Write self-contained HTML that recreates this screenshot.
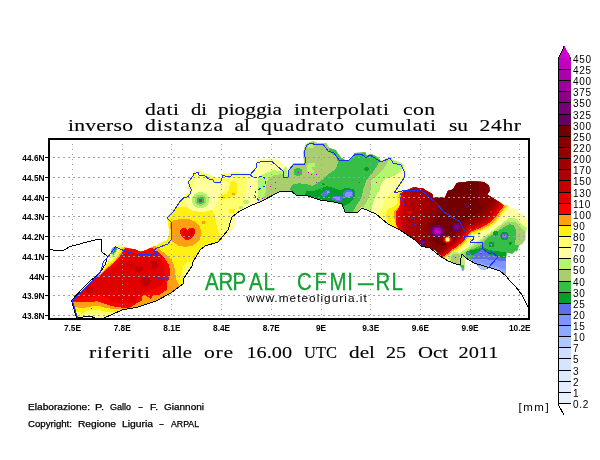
<!DOCTYPE html>
<html><head><meta charset="utf-8"><title>ARPAL CFMI-RL</title>
<style>
html,body{margin:0;padding:0;background:#fff;}
svg{display:block;}
.t{font-family:"Liberation Serif",serif;font-size:16px;fill:#000;stroke:#000;stroke-width:0.12px;}
.s{font-family:"Liberation Sans",sans-serif;fill:#000;}
</style></head>
<body>
<svg width="600" height="460" viewBox="0 0 600 460">
<rect x="0" y="0" width="600" height="460" fill="#ffffff"/>
<defs><clipPath id="reg"><polygon points="72,301 84,288 92,281 99,275 102,272 105,266 108.5,261 111,253.5 111.5,248.5 114,246.5 117,245 122,245 126,247.5 130,248.5 138,249.5 140,251.5 146,250 150,248 153,246 160,243 167,240 169,234 168,222 166,217 170,213 178,202 183,197 189,191 187,183 192,174 199,169.6 204,173 209,174 214,177 220,178 222,174 230,173 234,172 250,173 255,166 257,160 260,158.7 272,158.5 278.7,160 286.7,167.3 287.3,175.3 289,168 294,163 304,163 303.3,152.3 305.3,145 309.3,142.3 313.3,141 317.3,143 326.7,143 328.7,147.7 336,150.3 338,153.7 341.3,157.7 346.7,161 350.7,159 354.7,153 365.3,152.3 366.7,155.7 370.7,153.7 376,156.3 381.3,161 388,157.7 391.3,156.3 392.7,159.7 400,162.3 404,165 406.7,169.7 406,177 404,181 400.7,186.3 398.7,191 404,191 409.3,189 414.7,187 418.7,188.3 422.7,188.3 426.7,191 432,193.7 433.3,197.7 445,197.7 448,191 453,189.6 456,184.4 457,183 470,181.4 484,182 489,186 489.5,191 487,194.5 495,199.5 500,202.5 504,205.5 507.7,205.3 509.7,208.7 513.7,208 517.7,211.3 521.7,213.3 527.7,220 527.7,226.7 525.7,232 525.7,238.7 522.3,244 519,245.3 517,251.3 515,251 512.3,253.7 507,252.5 506,258 506,275.5 500.3,271 493.7,268.3 487.5,267.5 485,269.5 481,269 478,266 476.3,263.7 471,259.7 464,257 464.5,262 464.3,270 462,271 461,267 459,265 452.3,263 443,257.7 435,249.7 430,248 421,246 415,240 406,234 400,230 390,226 380,218 376,214 369.3,211 361.3,207 357.3,212.3 345.3,212.3 344,208.3 341.3,203.7 330.7,201.7 317.3,199 308,195.7 300,195 296,195.3 291.3,191.3 281.3,190.7 260,202 252,205 240,211 236,215 235.5,222 234,229 230,232 224,238 218,242 205,246 200,250 193,262 192,266 184,278 183,284 171,293 156,301 138,307 122,310 104,318 95,318 90,316 77,318"/></clipPath></defs>
<g shape-rendering="crispEdges" stroke="none" clip-path="url(#reg)">
<polygon fill="#ffffa0" points="40,130 540,130 540,330 40,330"/>
<polygon fill="#ffff6e" points="72,301 84,288 92,280 101,273 104,263 110,253 114,247 119,246 126,249 130,248.4 138,250 144,249 150,248 153,248 160,243 167,240 169,234 168,222 166,217 170,213 178,202 183,197 189,191 187,183 192,174 199,169.6 204,173 209,174 214,177 220,178 222,174 230,173 234,172 246,173 248,185 246,196 243,204 240,211 232,217 228,228 218,242 205,246 200,250 193,262 192,266 184,278 183,284 171,293 156,301 138,307 122,310 109,315 98.3,313.7 89,314.3 77.7,315 76,312"/>
<polygon fill="#fff014" points="73,303 84,288 92,280 101,273 104,265 109,257 113,251 117,248.5 122,247 126.3,247.3 129.7,249.3 135,249 140.3,251.3 145.7,250 148.3,248 153,248 160,243 167,240 169,234 168,222 166,217 170,213 176,207.5 185,206.7 193.3,211 203.3,212.5 211.7,210 215,215 216,223.3 218.3,231.7 221.7,238 218,242 205,246 200,250 193,262 192,266 184,278 183,284 171,293 156,301 138,307 122,310 117,311.7 110.3,312.3 102.3,311 95.7,309.7 89,310.3 82.3,313 76.3,311.7"/>
<polygon fill="#ffa014" points="72.5,302 84,288 92,280 101,273.5 105.5,268.5 108,266.5 112,263 116,259 119.5,254.5 122.5,250 124.5,246.5 127,247 129.7,248 135,249 140.3,251.3 145.7,250 148.3,248 152.3,247 153.5,245 157,247 161.5,251 167,255 171.5,260 174,265 175.5,275 176.5,280 179,285 180,288 171,293 156,301 138,307 122,310 121,309.4 113,309 105,307.7 98.3,305.7 91.7,306.3 87.7,307 82.3,308.3 75,307"/>
<polygon fill="#ff0000" points="72.5,301.5 84,288 92,280 100.5,274.5 103,272.5 106.5,269 109,267 113,263.8 117,259.8 120.5,255.3 123.5,250.8 125.5,247.5 129.7,248 135,249 140.3,251.3 145.7,250 148.3,248 153,248 155,251 157.5,251 163.5,256.5 169,265 170.5,275 168.5,280 166.5,283 166.5,290 164,291.3 160,294.7 153.3,295.3 150.7,298.7 146,295.5 142.7,294.7 142,300.7 136,303.3 132,306.7 128,308.7 123.7,308 118.3,307 111.7,306.3 105,303.7 97,301 91.7,302.3 81,302.3 73,302.3"/>
<polygon fill="#e10000" points="75,297.7 84,289 92,281 99,276 103,273 110,269 115,266 120,261 123,256.5 125.5,253 128,253 132,254 137,255 143,255.5 148,255.5 152,254 154.5,252.5 157,253 159.5,256.5 163.5,265 165,275 164.5,280 161.5,285 158.7,287 150.7,290 144,293.3 139,296 137,300 134.3,303 125,302.3 118.3,303 111,301.7 107.7,297 98.3,296.3 86.3,297 81,298.3"/>
<ellipse fill="#c30000" cx="131" cy="265.3" rx="2.2" ry="1.8"/>
<ellipse fill="#c30000" cx="139" cy="268.7" rx="4" ry="3"/>
<ellipse fill="#c30000" cx="154.3" cy="264.7" rx="3.5" ry="4"/>
<ellipse fill="#c30000" cx="145.7" cy="281.5" rx="5.2" ry="4.5"/>
<ellipse fill="#c30000" cx="89.5" cy="290" rx="4" ry="3.2"/>
<polygon fill="#ffffa0" points="109.5,261 112,254 113,249.5 115,247.5 118,246.5 121,247 119.5,250.5 117,254.5 113.5,259 111,262"/>
<polygon fill="#b4f56e" points="111.5,256 112.5,250 114.5,247.5 117.5,247 118.5,248.5 116.5,252 114,256 112.5,258"/>
<polygon fill="#37be46" points="112,254 112.8,249.5 114.5,247.5 116.5,247.5 116.8,249.5 115,252.5 113.5,255"/>
<polygon fill="#00a028" points="112.2,253 113,249.5 114.5,247.8 115.5,248 115.5,250 114,253"/>
<polygon fill="#7d96ff" points="111,254.5 111,249 113,247 114,248 114,250.5 113,253.5"/>
<polygon fill="#ffffa0" points="195,178 200,176 207,178 212,182 216,184 222,183 226,180 228,183 224,190 219,198 217,206 212,210 203,212 193,210.5 187,206 186,200 190,194 193,188"/>
<polygon fill="#ffffa0" points="246,173 262,170 262,200 246,212 241,211 243,206 246,196 247,184"/>
<polygon fill="#ffff6e" points="182,273 183,267 187,262.5 192,261 193,263 191,268 186,275 183,278"/>
<polygon fill="#fff014" points="230,182 234,180.5 237,183 237.5,190 236,195 231,197.5 225,199 220,198 221,195 226.5,194 229,190"/>
<ellipse fill="#fff014" cx="232" cy="211" rx="3" ry="2.5"/>
<ellipse fill="#b4f56e" cx="200.5" cy="200.2" rx="8.6" ry="8.2"/>
<ellipse fill="#aacd6e" cx="200.5" cy="200.2" rx="5.9" ry="5.6"/>
<ellipse fill="#37be46" cx="200.5" cy="200.2" rx="3.8" ry="3.6"/>
<ellipse fill="#00a028" cx="200.5" cy="200.3" rx="1.8" ry="1.7"/>
<ellipse fill="#b4f56e" cx="246" cy="202" rx="2.6" ry="2.4"/>
<ellipse fill="#b4f56e" cx="241" cy="207.7" rx="2" ry="1.8"/>
<polygon fill="#ffa014" points="170,224 173,220.5 180,219 190,219.5 196,222 200,227 201.7,234 199,241 193,245.5 186,247 178,245.5 171.5,241 171,233"/>
<ellipse fill="#ffa014" cx="203.7" cy="222.5" rx="2" ry="1.6"/>
<ellipse fill="#ffa014" cx="233.5" cy="194" rx="1.6" ry="1.3"/>
<polygon fill="#ff0000" points="180,231 182,228 186,228.5 188,230 190,227.5 194,228 195.5,232 193.5,236.5 189,239.5 185,239.5 181,236"/>
<polygon fill="#e10000" points="183,231.5 185,229.5 188,231.5 190,229 193.5,229.5 194,233 191.5,236.5 188,238 185,236.5"/>
<polygon fill="#b4f56e" points="258,178.7 261.3,175.3 266.7,172.7 273.3,170 280,171.3 284,169 286.7,166 290,160 300,158 300,138 410,138 404,165 400,171.7 394.7,175.7 386.7,178.3 381.3,183.7 379.3,190.3 374.7,198.3 372,206 372,213 369.3,212 361.3,208 357.3,214 345.3,214 343,208.3 341.3,205 330.7,203 317.3,200 308,197 300,196.5 296,196.5 291.3,193 281.3,192 260,204 258,194 258,190"/>
<polygon fill="#aacd6e" points="268.7,178.7 273.3,175.3 282.7,174 284,176.7 287.3,176.7 288.7,171 293.3,163 300,160 300,138 392,138 389,160 384,168 378,175 371.5,180 371,188 369.5,195 366.5,202 364,206 360,210.5 357.3,214 345.3,214 343,208.3 341.3,205 330.7,203 317.3,200 308,197 300,196.5 296,196.5 291.3,193 281.3,192 260,204 262,203 264,198 266.5,190 266,185"/>
<polygon fill="#37be46" points="329.3,151.7 328,145 332,140 380,140 381,158 378.7,162.3 376,167.7 372,173.7 366.7,179.7 363.3,189 361.3,198.3 358.7,201.7 353.3,211 352,215 345.3,214 343,208.3 341.3,205 330.7,203 317.3,200 308,197 300,196.5 296,196.5 291.3,193 290,188.7 292.7,184.7 298.7,183.3 306.7,184 312,186 318.7,182.3 323.3,179 328,174.3 336,169 338,163 336,156.3"/>
<ellipse fill="#37be46" cx="298" cy="172" rx="4.5" ry="4.2"/>
<polygon fill="#b4f56e" points="307,170.5 307,165 310,163 314.5,163.5 314.5,166.5 311.5,166.5 311.5,169.5 314,170 314.5,172.5 309,172.8"/>
<ellipse fill="#b4f56e" cx="310.7" cy="146.3" rx="3.2" ry="2"/>
<polygon fill="#00a028" points="304,196.5 306.7,191 313.3,191 321.3,188.3 326.7,186.3 334.7,188.3 340,190.3 345.3,187.7 353.3,189 355.5,193 354.5,198 351,202 347.5,204.5 343,206 341.3,205 330.7,203 317.3,200 308,197"/>
<ellipse fill="#00a028" cx="366.5" cy="169" rx="2.5" ry="2.3"/>
<ellipse fill="#00a028" cx="323.3" cy="184.3" rx="1.3" ry="1.2"/>
<polygon fill="#5f6eeb" points="322,196 322.5,193 326,190.5 329.5,189.7 330.5,192 328,195 324,197.3"/>
<polygon fill="#7d96ff" points="326.5,192 329,190.5 329.8,192.5 327.5,194"/>
<polygon fill="#5f6eeb" points="332,197 335,195.7 341,196 343,198 342,200.5 336,201 332.5,199.5"/>
<polygon fill="#5f6eeb" points="342.7,196 343.5,192 347,189.7 351,190 353.3,193 352.5,197 349,198.3 344,198.3"/>
<polygon fill="#7d96ff" points="345,193 348,191.5 351.5,192.5 351.5,196 348,197.5 345,196.5"/>
<polygon fill="#7d96ff" points="335,197.5 340,197.3 340.5,199.5 336,200"/>
<polygon fill="#ffff6e" points="410,188.5 406,184 403,180 397,185 393,190 390,193 385,200 383,206 379,211 377,214 375,222 380,275 430,275 440,267 445,261 450,256 455,252.5 460,250 465,247 470,243 473,239 474,235 478,232 483,229.5 488,227 494,223 498,219.5 501,215 506,209 514,198 520,170 410,170"/>
<polygon fill="#fff014" points="410,188.5 399,191 397,195 397.5,203 394,207 389,208 386.5,212 386,218 388,223 390,232 380,275 430,275 437.8,266.2 444.9,259.7 448.9,256.3 452,253.4 457.1,250.4 462.1,246.5 467.2,241.5 469.2,237.6 472.8,234.2 477.3,232.7 482.4,230.8 487.4,228.4 492.5,225.4 496.5,222 499.6,218 501.7,215.1 506.4,209.2 514.8,199.2 520,170 410,170"/>
<polygon fill="#ffa014" points="410,188.5 400,193 398.5,196 400,199 399.5,205 397,209 394,211.5 393.5,215 395,221 396.5,227 397,234 380,275 430,275 436.9,265 443.9,258.6 447.9,255.1 451,252.1 456,249.2 461,245.2 466,240.2 468.1,236.3 471.6,232.8 476.1,231.3 481.1,229.3 486.2,226.9 491.2,223.9 495.2,220.4 498.2,216.5 500.3,213.5 505,207.5 513.3,197.6 520,170 410,170"/>
<polygon fill="#ff0000" points="410,188.5 400.5,193 401.5,196 400.5,199 400.3,205 398,209 396,212 395.5,218 396.5,225 398,228.5 399,235 380,275 430,275 436,264 443,257.5 447,254 450,251 455,248 460,244 465,239 467,235 470.5,231.5 475,230 480,228 485,225.5 490,222.5 494,219 497,215 499,212 503.7,206 512,196 520,170 410,170"/>
<polygon fill="#e10000" points="410,188.5 401.5,192 402,198 401,205 399,211 397.5,218 399,227 400,236 380,275 430,275 435.2,263.1 442.2,256.5 446.2,253 449.2,250 454.1,246.9 459.1,242.9 464.1,237.9 466.1,233.9 469.5,230.3 474,228.8 479,226.8 484,224.2 488.9,221.2 492.9,217.7 495.9,213.7 497.9,210.6 502.6,204.6 510.8,194.6 520,170 410,170"/>
<polygon fill="#c30000" points="410,188.5 403,191 404,195 404.5,205 403,210 401,218 402,227 403,231 404,238 380,275 430,275 434.4,262 441.3,255.5 445.3,251.9 448.2,248.9 453.2,245.8 458.1,241.7 463.1,236.7 465,232.6 468.5,229.1 472.9,227.5 477.9,225.4 482.8,222.9 487.8,219.8 491.7,216.3 494.7,212.2 496.6,209.1 501.3,203.1 509.5,193 520,170 410,170"/>
<polygon fill="#af0000" points="411,186 410,193 409.5,205 408,212 405.5,218 405.5,227 407,240 380,275 430,275 433.5,261 440.5,254.4 444.4,250.8 447.3,247.7 452.2,244.7 457.2,240.6 462.1,235.5 464,231.4 467.4,227.8 471.8,226.2 476.8,224.1 481.7,221.5 486.6,218.4 490.5,214.8 493.5,210.7 495.4,207.6 500,201.5 508.2,191.4 520,170 410,170"/>
<polygon fill="#a00000" points="422,186 421.7,190 421,197.3 421.7,206.7 419.7,214.7 417.7,224 415,233.3 414,245 380,275 430,275 432.7,260 439.6,253.4 443.5,249.8 446.4,246.6 451.3,243.5 456.2,239.4 461.1,234.3 463,230.1 466.4,226.5 470.8,224.9 475.7,222.8 480.5,220.1 485.4,217 489.3,213.4 492.2,209.3 494.1,206.1 498.7,200 506.9,189.9 520,170 410,170"/>
<polygon fill="#940000" points="427,186 426.5,194 428,202 430.5,207 427.5,214 424,219 421.5,225.5 421,234 421,250 380,275 430,275 431.8,259 438.7,252.3 442.6,248.7 445.4,245.5 450.3,242.4 455.2,238.2 460.1,233 461.9,228.9 465.3,225.2 469.7,223.6 474.5,221.4 479.4,218.8 484.3,215.6 488.1,212 491,207.8 492.9,204.6 497.5,198.5 505.6,188.3 520,170 410,170"/>
<polygon fill="#870000" points="430,186 431,194.7 435,201.3 439,206.7 435,213.3 429.7,218.7 427,225.3 427,233.3 428.3,238.7 429,252 380,275 430,275 430.6,257.6 437.5,250.9 441.3,247.2 444.1,244 449,240.8 453.8,236.6 458.6,231.4 460.5,227.2 463.8,223.5 468.1,221.8 473,219.6 477.8,216.9 482.6,213.7 486.5,210 489.3,205.8 491.1,202.6 495.7,196.4 503.8,186.2 520,170 410,170"/>
<polygon fill="#730000" points="435,201 440,186 457,170 479,170 479,200 481,207 484.2,207.4 480.4,211.2 475.6,214.4 470.9,217.2 466.1,219.4 461.8,221.2 458.5,225 452,240 444,246 436,244 431,238 431,226 434,220 441,213 444,208"/>
<ellipse fill="#ff0000" cx="491" cy="212" rx="1.3" ry="1.1"/>
<ellipse fill="#e10000" cx="410.3" cy="212.7" rx="2.2" ry="2.2"/>
<ellipse fill="#640064" cx="437.4" cy="231.3" rx="7.3" ry="6.6"/>
<ellipse fill="#880088" cx="437.4" cy="231.3" rx="5.2" ry="4.7"/>
<ellipse fill="#ac00ac" cx="437.4" cy="231.3" rx="3.6" ry="3.3"/>
<ellipse fill="#d200d2" cx="437.4" cy="231.3" rx="2.2" ry="2"/>
<ellipse fill="#640064" cx="456.6" cy="227" rx="4.5" ry="4.2"/>
<ellipse fill="#760076" cx="456.6" cy="227" rx="3" ry="2.8"/>
<ellipse fill="#880088" cx="456.6" cy="227" rx="1.6" ry="1.5"/>
<ellipse fill="#640064" cx="467" cy="206.3" rx="2" ry="1.7"/>
<ellipse fill="#640064" cx="423" cy="242" rx="3" ry="3"/>
<ellipse fill="#880088" cx="423" cy="242.5" rx="1.6" ry="1.6"/>
<ellipse fill="#af0000" cx="447.4" cy="239.6" rx="4.6" ry="4.2"/>
<ellipse fill="#e10000" cx="447.4" cy="239.6" rx="3.9" ry="3.5"/>
<ellipse fill="#ff0000" cx="447.4" cy="239.6" rx="3.3" ry="2.9"/>
<ellipse fill="#ffa014" cx="447.4" cy="239.6" rx="2.7" ry="2.4"/>
<polygon fill="#ffff6e" points="445.6,238 449.2,238 449.2,241.2 445.6,241.2"/>
<polygon fill="#b4f56e" points="532,234 527.7,229 523,225.3 517.7,220 513,217.5 508.3,218.5 505,221 500,225 495,229 490,232.5 484,236.5 479,240.5 471.5,245 465,249.5 460,252.5 458,253.5 452,253 448,258 470,290 535,290"/>
<polygon fill="#aacd6e" points="532,240 525,238.7 525,232 520.3,226.7 515,222 508,221.5 503,225 498,229 493,232.5 486.5,236.5 482,240.5 475,245 469,249 465,251.5 463,253 459,255.5 453.5,255 451,260 470,290 535,290"/>
<polygon fill="#37be46" points="532,246 515,245.3 515.7,238.7 516.3,230.7 513.7,225.3 510,224 506,226 501,229 495,233 489.5,236.5 485,240.5 483,244 477,247 471.5,249.5 467,251.5 466,254 466,262 470,290 535,290"/>
<polygon fill="#00a028" points="466,252 470,250.5 477,249 483,247 488,249.5 494,251 500,251.5 505.7,251.5 506,259 495,258 488.3,256 480,254 472,255 466,255"/>
<ellipse fill="#00a028" cx="495.5" cy="233.3" rx="3" ry="2.2"/>
<ellipse fill="#00a028" cx="504.5" cy="236" rx="4.2" ry="4"/>
<ellipse fill="#00a028" cx="491.5" cy="244.5" rx="2.8" ry="2.8"/>
<ellipse fill="#00a028" cx="510.3" cy="243.3" rx="1.6" ry="1.5"/>
<ellipse fill="#5f6eeb" cx="504.5" cy="236" rx="2.7" ry="2.5"/>
<ellipse fill="#7d96ff" cx="504.5" cy="236" rx="1.4" ry="1.2"/>
<ellipse fill="#5f6eeb" cx="495.5" cy="233.3" rx="1.1" ry="1"/>
<ellipse fill="#7d96ff" cx="491" cy="244.7" rx="1.3" ry="1.3"/>
<polygon fill="#5f6eeb" points="471.5,262 473,255 477,253 479,251 483,249.5 485,252 488,253 490,255 494,255.5 498,257 504,258 506,258.3 506,290 466,290"/>
<polygon fill="#7d96ff" points="472,258.5 478,258.5 488,259.5 498,260.5 506,261 506,290 466,290"/>
<polygon fill="#8caaff" points="474,262.5 480,263 489,265.5 497,266.5 506,270 506,290 470,290"/>
<polygon fill="#afc8ff" points="478,265.5 483,266.5 487,268 486,271 478,270"/>
<ellipse fill="#5f6eeb" cx="468.5" cy="253.2" rx="1.8" ry="1.5"/>
<ellipse fill="#7d96ff" cx="481" cy="253.2" rx="1.3" ry="1.4"/>
<polygon fill="#b4f56e" points="449,254.5 452,252.5 456,252 460.5,253.5 461,258 459.7,265.5 452,263.5 449.5,259"/>
<polygon fill="#aacd6e" points="451,256 454,254 458,254 460.3,256 460,264.8 453,263 451,260"/>
<polygon fill="#b4f56e" points="459.5,259 461,254.5 464,257 464.5,262 464.3,265 459,265"/>
<polygon fill="#37be46" points="460,264.5 464.3,264.5 464.3,268 461.5,268 460,266"/>
<polygon fill="#7d96ff" points="461.8,267.5 464.3,267.5 464.3,271 462,271"/>
<ellipse fill="#b4f56e" cx="479" cy="233.4" rx="1.8" ry="1.6"/>
<polygon fill="#d000d0" points="199.95,199.75 201.05,199.75 201.05,200.85 199.95,200.85"/>
<polygon fill="#d000d0" points="221.45,197.05 222.55,197.05 222.55,198.15 221.45,198.15"/>
<polygon fill="#d000d0" points="358.95,181.75 360.05,181.75 360.05,182.85 358.95,182.85"/>
<polygon fill="#d000d0" points="375.95,181.75 377.05,181.75 377.05,182.85 375.95,182.85"/>
<polygon fill="#d000d0" points="250.15,185.75 251.25,185.75 251.25,186.85 250.15,186.85"/>
<polygon fill="#d000d0" points="275.15,181.85 276.25,181.85 276.25,182.95 275.15,182.95"/>
<polygon fill="#d000d0" points="269.85,185.75 270.95,185.75 270.95,186.85 269.85,186.85"/>
<polygon fill="#d000d0" points="275.15,187.85 276.25,187.85 276.25,188.95 275.15,188.95"/>
<polygon fill="#d000d0" points="261.85,197.75 262.95,197.75 262.95,198.85 261.85,198.85"/>
<polygon fill="#d000d0" points="298.15,171.85 299.25,171.85 299.25,172.95 298.15,172.95"/>
<polygon fill="#d000d0" points="307.95,171.85 309.05,171.85 309.05,172.95 307.95,172.95"/>
<polygon fill="#d000d0" points="311.15,173.85 312.25,173.85 312.25,174.95 311.15,174.95"/>
<polygon fill="#d000d0" points="316.05,173.85 317.15,173.85 317.15,174.95 316.05,174.95"/>
<polygon fill="#d000d0" points="315.95,181.85 317.05,181.85 317.05,182.95 315.95,182.95"/>
<polygon fill="#d000d0" points="322.75,183.75 323.85,183.75 323.85,184.85 322.75,184.85"/>
<polygon fill="#d000d0" points="478.45,232.85 479.55,232.85 479.55,233.95 478.45,233.95"/>
<polygon fill="#d000d0" points="467.05,234.85 468.15,234.85 468.15,235.95 467.05,235.95"/>
<polygon fill="#d000d0" points="510.05,242.75 511.15,242.75 511.15,243.85 510.05,243.85"/>
<polygon fill="#d000d0" points="490.05,244.85 491.15,244.85 491.15,245.95 490.05,245.95"/>
<polygon fill="#d000d0" points="454.95,256.95 456.05,256.95 456.05,258.05 454.95,258.05"/>
<polygon fill="#d000d0" points="91.15,307.75 92.25,307.75 92.25,308.85 91.15,308.85"/>
<polygon fill="#d000d0" points="503.95,235.45 505.05,235.45 505.05,236.55 503.95,236.55"/>
<polygon fill="#d000d0" points="480.45,252.65 481.55,252.65 481.55,253.75 480.45,253.75"/>
<polygon fill="#d000d0" points="494.95,232.75 496.05,232.75 496.05,233.85 494.95,233.85"/>
<polygon fill="#d000d0" points="436.85,230.75 437.95,230.75 437.95,231.85 436.85,231.85"/>
</g>
<g stroke="#9e9e9e" stroke-width="1" shape-rendering="crispEdges" fill="none">
<line x1="72.5" y1="140" x2="72.5" y2="318" stroke-dasharray="1.6 3.4" stroke-dashoffset="1.5"/>
<line x1="122.5" y1="140" x2="122.5" y2="318" stroke-dasharray="1.6 3.4" stroke-dashoffset="1.5"/>
<line x1="171.5" y1="140" x2="171.5" y2="318" stroke-dasharray="1.6 3.4" stroke-dashoffset="1.5"/>
<line x1="221.5" y1="140" x2="221.5" y2="318" stroke-dasharray="1.6 3.4" stroke-dashoffset="1.5"/>
<line x1="271.5" y1="140" x2="271.5" y2="318" stroke-dasharray="1.6 3.4" stroke-dashoffset="1.5"/>
<line x1="321.5" y1="140" x2="321.5" y2="318" stroke-dasharray="1.6 3.4" stroke-dashoffset="1.5"/>
<line x1="370.5" y1="140" x2="370.5" y2="318" stroke-dasharray="1.6 3.4" stroke-dashoffset="1.5"/>
<line x1="420.5" y1="140" x2="420.5" y2="318" stroke-dasharray="1.6 3.4" stroke-dashoffset="1.5"/>
<line x1="470.5" y1="140" x2="470.5" y2="318" stroke-dasharray="1.6 3.4" stroke-dashoffset="1.5"/>
<line x1="519.5" y1="140" x2="519.5" y2="318" stroke-dasharray="1.6 3.4" stroke-dashoffset="1.5"/>
<line x1="50" y1="157.5" x2="528" y2="157.5" stroke-dasharray="1.6 3.4" stroke-dashoffset="2"/>
<line x1="50" y1="177.5" x2="528" y2="177.5" stroke-dasharray="1.6 3.4" stroke-dashoffset="2"/>
<line x1="50" y1="197.5" x2="528" y2="197.5" stroke-dasharray="1.6 3.4" stroke-dashoffset="2"/>
<line x1="50" y1="216.5" x2="528" y2="216.5" stroke-dasharray="1.6 3.4" stroke-dashoffset="2"/>
<line x1="50" y1="236.5" x2="528" y2="236.5" stroke-dasharray="1.6 3.4" stroke-dashoffset="2"/>
<line x1="50" y1="256.5" x2="528" y2="256.5" stroke-dasharray="1.6 3.4" stroke-dashoffset="2"/>
<line x1="50" y1="276.5" x2="528" y2="276.5" stroke-dasharray="1.6 3.4" stroke-dashoffset="2"/>
<line x1="50" y1="295.5" x2="528" y2="295.5" stroke-dasharray="1.6 3.4" stroke-dashoffset="2"/>
<line x1="50" y1="315.5" x2="528" y2="315.5" stroke-dasharray="1.6 3.4" stroke-dashoffset="2"/>
</g>
<g fill="none" stroke-linejoin="round" shape-rendering="crispEdges">
<polyline stroke="#000" stroke-width="1" points="50,249.4 58,251 64,250 70,246.6 80,244 85,242.4 97.5,239.5 101.5,239.5 101.5,251.5 107.5,256.5 105.5,264 101,271 94,278 90,281 83,288 71.5,300.5 76.5,318"/>
<polyline stroke="#000" stroke-width="1" points="77,318 90,316 95,318 104,318 122,310 138,307 156,301 171,293 183,284 184,278 192,266 193,262 200,250 205,246 218,242 228,230 232,217 240,211 252,205 260,202 281,191 292,191.6 296,195 308,196 320,200 334,202 342,204 345,212 358,212 362,208 376,214 388,224 400,230 406,234 415,240 421,246 430,248 440,256 448,261 456,264 460,265 461,258 462,254 466,258 474,263 484,266 494,269 500,271 506,276 510,281 516,287 522,295 526,303 528,307"/>
<polyline stroke="#1e32ff" stroke-width="1" points="77.5,318 72.5,301 84.5,288.5 92.5,280.5 96,277 100.5,272 102,267 103.5,261.5 107.5,257.5 111.5,252 115.5,247 120,249 125,251 132,253 137,254 143,254.5 148,255 154,253.6 156,256 157,254 154,250 157,248 168,244 171,240 171,222 167,218 173,212 180,201.5 184,197.5 187.5,197 190,194 191.5,189.5 189.5,186 188.5,182 193,176 193.5,173.5 198.5,172.5 199,175 205,176 209,179 213,180 214.5,182.5 220,182.5 221.5,180 222.5,175.5 230,177 232,174.5 250,175 256,168 257,163 261,161.6 272,161.6 283,171 283,177 288,177 289,170 294,164 304,165 306,161 304,152 307,145 311,143 316,145 323,144 328,151 334,153 339,160 348,161 355,154.4 362,154.4 366,158 370,155 381,162 390,158 393,163 401,165 404,171 404,178 400,184 394,193 402,191 416,190 422,191 428,196 436,203 444,212 452,217 460,222 466,234 464,239 467,236 473,236 474,239 470,242 482,242 483,249 487,252 490,254 492,252 498,257 487,269"/>
<polyline stroke="#1e32ff" stroke-width="1" stroke-dasharray="2 2" points="161,256 161,265 153,271 156,278 168,279"/>
<polyline stroke="#1e32ff" stroke-width="1" stroke-dasharray="3 2" points="250,175 254,178 263,176 266,180 265,186 256,191 254,195 260,202"/>
<polyline stroke="#1e32ff" stroke-width="1" stroke-dasharray="2 2" points="400,193 400,198 404,202 406,210 412,218 416,224 410,226"/>
</g>
<rect x="49" y="139" width="480" height="180" fill="none" stroke="#000" stroke-width="2" shape-rendering="crispEdges"/>
<g stroke="#000" stroke-width="1" shape-rendering="crispEdges">
<line x1="45" y1="157.5" x2="48" y2="157.5"/>
<line x1="45" y1="177.5" x2="48" y2="177.5"/>
<line x1="45" y1="197.5" x2="48" y2="197.5"/>
<line x1="45" y1="216.5" x2="48" y2="216.5"/>
<line x1="45" y1="236.5" x2="48" y2="236.5"/>
<line x1="45" y1="256.5" x2="48" y2="256.5"/>
<line x1="45" y1="276.5" x2="48" y2="276.5"/>
<line x1="45" y1="295.5" x2="48" y2="295.5"/>
<line x1="45" y1="315.5" x2="48" y2="315.5"/>
</g>
<g class="s" font-size="8.3" font-weight="bold" text-anchor="end">
<text x="44.5" y="161">44.6N</text>
<text x="44.5" y="180.75">44.5N</text>
<text x="44.5" y="200.5">44.4N</text>
<text x="44.5" y="220.25">44.3N</text>
<text x="44.5" y="240">44.2N</text>
<text x="44.5" y="259.75">44.1N</text>
<text x="44.5" y="279.5">44N</text>
<text x="44.5" y="299.25">43.9N</text>
<text x="44.5" y="319">43.8N</text>
</g>
<g class="s" font-size="8.3" font-weight="bold" text-anchor="middle">
<text x="72.5" y="331">7.5E</text>
<text x="122.2" y="331">7.8E</text>
<text x="171.9" y="331">8.1E</text>
<text x="221.6" y="331">8.4E</text>
<text x="271.3" y="331">8.7E</text>
<text x="321" y="331">9E</text>
<text x="370.7" y="331">9.3E</text>
<text x="420.4" y="331">9.6E</text>
<text x="470.1" y="331">9.9E</text>
<text x="519.8" y="331">10.2E</text>
</g>
<text class="t" transform="translate(145,114.7) scale(1.350,1)" textLength="25.19" lengthAdjust="spacing">dati</text>
<text class="t" transform="translate(191,114.7) scale(1.286,1)" textLength="12.45" lengthAdjust="spacing">di</text>
<text class="t" transform="translate(218,114.7) scale(1.334,1)" textLength="47.99" lengthAdjust="spacing">pioggia</text>
<text class="t" transform="translate(294,114.7) scale(1.350,1)" textLength="70.37" lengthAdjust="spacing">interpolati</text>
<text class="t" transform="translate(403,114.7) scale(1.350,1)" textLength="23.70" lengthAdjust="spacing">con</text>
<text class="t" transform="translate(68,131) scale(1.350,1)" textLength="48.15" lengthAdjust="spacing">inverso</text>
<text class="t" transform="translate(145,131) scale(1.350,1)" textLength="57.78" lengthAdjust="spacing">distanza</text>
<text class="t" transform="translate(234.5,131) scale(1.342,1)" textLength="11.55" lengthAdjust="spacing">al</text>
<text class="t" transform="translate(261,131) scale(1.350,1)" textLength="61.48" lengthAdjust="spacing">quadrato</text>
<text class="t" transform="translate(355,131) scale(1.350,1)" textLength="60.00" lengthAdjust="spacing">cumulati</text>
<text class="t" transform="translate(449,131) scale(1.336,1)" textLength="14.23" lengthAdjust="spacing">su</text>
<text class="t" transform="translate(479.6,131) scale(1.350,1)" textLength="30.67" lengthAdjust="spacing">24hr</text>
<text class="t" transform="translate(89,358.4) scale(1.350,1)" textLength="45.19" lengthAdjust="spacing">riferiti</text>
<text class="t" transform="translate(162,358.4) scale(1.299,1)" textLength="23.09" lengthAdjust="spacing">alle</text>
<text class="t" transform="translate(204,358.4) scale(1.350,1)" textLength="21.48" lengthAdjust="spacing">ore</text>
<text class="t" transform="translate(246.5,358.4) scale(1.264,1)" textLength="36.00" lengthAdjust="spacing">16.00</text>
<text class="t" transform="translate(304,358.4) scale(1.031,1)" textLength="32.00" lengthAdjust="spacing">UTC</text>
<text class="t" transform="translate(349,358.4) scale(1.330,1)" textLength="19.55" lengthAdjust="spacing">del</text>
<text class="t" transform="translate(386,358.4) scale(1.250,1)" textLength="16.00" lengthAdjust="spacing">25</text>
<text class="t" transform="translate(418,358.4) scale(1.299,1)" textLength="23.10" lengthAdjust="spacing">Oct</text>
<text class="t" transform="translate(458.5,358.4) scale(1.270,1)" textLength="31.41" lengthAdjust="spacing">2011</text>
<g class="s" font-size="23.2" style="fill:#14a032" stroke="#14a032" stroke-width="0.3" transform="scale(0.88,1)">
<text x="233.0 248.3 264.2 283.0 299.4" y="290.3">ARPAL</text>
<text x="337.5 357.4 374.4 394.5" y="290.3">CFMI</text>
<text x="406.8" y="290.3" textLength="17.6" lengthAdjust="spacingAndGlyphs">–</text>
<text x="426.7 444.9" y="290.3">RL</text>
</g>
<text class="s" font-size="11.8" x="246.3" y="302.3" textLength="120.5" lengthAdjust="spacing">www.meteoliguria.it</text>
<text class="s" font-size="8.3" x="28" y="410" textLength="62" lengthAdjust="spacingAndGlyphs" stroke="#000" stroke-width="0.25">Elaborazione:</text>
<text class="s" font-size="8.3" x="95" y="410" textLength="9" lengthAdjust="spacingAndGlyphs" stroke="#000" stroke-width="0.25">P.</text>
<text class="s" font-size="8.3" x="110" y="410" textLength="21" lengthAdjust="spacingAndGlyphs" stroke="#000" stroke-width="0.25">Gallo</text>
<text class="s" font-size="8.3" x="138" y="410" textLength="5" lengthAdjust="spacingAndGlyphs" stroke="#000" stroke-width="0.25">-</text>
<text class="s" font-size="8.3" x="150" y="410" textLength="8" lengthAdjust="spacingAndGlyphs" stroke="#000" stroke-width="0.25">F.</text>
<text class="s" font-size="8.3" x="164" y="410" textLength="40" lengthAdjust="spacingAndGlyphs" stroke="#000" stroke-width="0.25">Giannoni</text>
<text class="s" font-size="8.3" x="28" y="426.5" textLength="44" lengthAdjust="spacingAndGlyphs" stroke="#000" stroke-width="0.25">Copyright:</text>
<text class="s" font-size="8.3" x="78" y="426.5" textLength="38" lengthAdjust="spacingAndGlyphs" stroke="#000" stroke-width="0.25">Regione</text>
<text class="s" font-size="8.3" x="122" y="426.5" textLength="31" lengthAdjust="spacingAndGlyphs" stroke="#000" stroke-width="0.25">Liguria</text>
<text class="s" font-size="8.3" x="159" y="426.5" textLength="5" lengthAdjust="spacingAndGlyphs" stroke="#000" stroke-width="0.25">-</text>
<text class="s" font-size="8.3" x="171" y="426.5" textLength="28" lengthAdjust="spacingAndGlyphs" stroke="#000" stroke-width="0.25">ARPAL</text>
<g shape-rendering="crispEdges">
<rect x="559" y="392" width="12" height="11" fill="#e8f1ff"/>
<rect x="559" y="381" width="12" height="11" fill="#e2edff"/>
<rect x="559" y="370" width="12" height="11" fill="#dce9ff"/>
<rect x="559" y="358" width="12" height="12" fill="#d6e5ff"/>
<rect x="559" y="347" width="12" height="11" fill="#cddeff"/>
<rect x="559" y="336" width="12" height="11" fill="#afc8ff"/>
<rect x="559" y="325" width="12" height="11" fill="#8caaff"/>
<rect x="559" y="314" width="12" height="11" fill="#7d96ff"/>
<rect x="559" y="303" width="12" height="11" fill="#5f6eeb"/>
<rect x="559" y="292" width="12" height="11" fill="#00a028"/>
<rect x="559" y="281" width="12" height="11" fill="#37be46"/>
<rect x="559" y="269" width="12" height="12" fill="#aacd6e"/>
<rect x="559" y="258" width="12" height="11" fill="#b4f56e"/>
<rect x="559" y="247" width="12" height="11" fill="#ffffa0"/>
<rect x="559" y="236" width="12" height="11" fill="#ffff6e"/>
<rect x="559" y="225" width="12" height="11" fill="#fff014"/>
<rect x="559" y="214" width="12" height="11" fill="#ffa014"/>
<rect x="559" y="203" width="12" height="11" fill="#ff0000"/>
<rect x="559" y="192" width="12" height="11" fill="#e10000"/>
<rect x="559" y="180" width="12" height="12" fill="#c30000"/>
<rect x="559" y="169" width="12" height="11" fill="#af0000"/>
<rect x="559" y="158" width="12" height="11" fill="#a00000"/>
<rect x="559" y="147" width="12" height="11" fill="#940000"/>
<rect x="559" y="136" width="12" height="11" fill="#870000"/>
<rect x="559" y="125" width="12" height="11" fill="#730000"/>
<rect x="559" y="114" width="12" height="11" fill="#640064"/>
<rect x="559" y="102" width="12" height="12" fill="#760076"/>
<rect x="559" y="91" width="12" height="11" fill="#880088"/>
<rect x="559" y="80" width="12" height="11" fill="#9a009a"/>
<rect x="559" y="69" width="12" height="11" fill="#ac00ac"/>
<rect x="559" y="58" width="12" height="11" fill="#be00be"/>
<polygon points="559,58 571,58 564.5,46" fill="#d200d2"/>
<g stroke="#000" stroke-width="1" fill="none">
<line x1="558" y1="403.5" x2="571" y2="403.5"/>
<line x1="558" y1="392.5" x2="571" y2="392.5"/>
<line x1="558" y1="381.5" x2="571" y2="381.5"/>
<line x1="558" y1="370.5" x2="571" y2="370.5"/>
<line x1="558" y1="358.5" x2="571" y2="358.5"/>
<line x1="558" y1="347.5" x2="571" y2="347.5"/>
<line x1="558" y1="336.5" x2="571" y2="336.5"/>
<line x1="558" y1="325.5" x2="571" y2="325.5"/>
<line x1="558" y1="314.5" x2="571" y2="314.5"/>
<line x1="558" y1="303.5" x2="571" y2="303.5"/>
<line x1="558" y1="292.5" x2="571" y2="292.5"/>
<line x1="558" y1="281.5" x2="571" y2="281.5"/>
<line x1="558" y1="269.5" x2="571" y2="269.5"/>
<line x1="558" y1="258.5" x2="571" y2="258.5"/>
<line x1="558" y1="247.5" x2="571" y2="247.5"/>
<line x1="558" y1="236.5" x2="571" y2="236.5"/>
<line x1="558" y1="225.5" x2="571" y2="225.5"/>
<line x1="558" y1="214.5" x2="571" y2="214.5"/>
<line x1="558" y1="203.5" x2="571" y2="203.5"/>
<line x1="558" y1="192.5" x2="571" y2="192.5"/>
<line x1="558" y1="180.5" x2="571" y2="180.5"/>
<line x1="558" y1="169.5" x2="571" y2="169.5"/>
<line x1="558" y1="158.5" x2="571" y2="158.5"/>
<line x1="558" y1="147.5" x2="571" y2="147.5"/>
<line x1="558" y1="136.5" x2="571" y2="136.5"/>
<line x1="558" y1="125.5" x2="571" y2="125.5"/>
<line x1="558" y1="114.5" x2="571" y2="114.5"/>
<line x1="558" y1="102.5" x2="571" y2="102.5"/>
<line x1="558" y1="91.5" x2="571" y2="91.5"/>
<line x1="558" y1="80.5" x2="571" y2="80.5"/>
<line x1="558" y1="69.5" x2="571" y2="69.5"/>
<line x1="558.5" y1="58" x2="558.5" y2="405"/>
<polyline points="558.5,58.5 564,46.5"/>
<polyline points="558.5,405 564,415"/>
<line x1="570" y1="58.5" x2="571" y2="58.5"/>
</g>
</g>
<g class="s" font-size="10" letter-spacing="0.65">
<text x="573" y="408">0.2</text>
<text x="573" y="397">1</text>
<text x="573" y="386">2</text>
<text x="573" y="375">3</text>
<text x="573" y="363">5</text>
<text x="573" y="352">7</text>
<text x="573" y="341">10</text>
<text x="573" y="330">15</text>
<text x="573" y="319">20</text>
<text x="573" y="308">25</text>
<text x="573" y="297">30</text>
<text x="573" y="286">40</text>
<text x="573" y="274">50</text>
<text x="573" y="263">60</text>
<text x="573" y="252">70</text>
<text x="573" y="241">80</text>
<text x="573" y="230">90</text>
<text x="573" y="219">100</text>
<text x="573" y="208">110</text>
<text x="573" y="197">130</text>
<text x="573" y="185">150</text>
<text x="573" y="174">170</text>
<text x="573" y="163">200</text>
<text x="573" y="152">220</text>
<text x="573" y="141">250</text>
<text x="573" y="130">300</text>
<text x="573" y="119">325</text>
<text x="573" y="107">350</text>
<text x="573" y="96">375</text>
<text x="573" y="85">400</text>
<text x="573" y="74">425</text>
<text x="573" y="63">450</text>
</g>
<text class="s" font-size="11.5" x="518.6" y="411" textLength="30" lengthAdjust="spacing">[mm]</text>
</svg>
</body></html>
